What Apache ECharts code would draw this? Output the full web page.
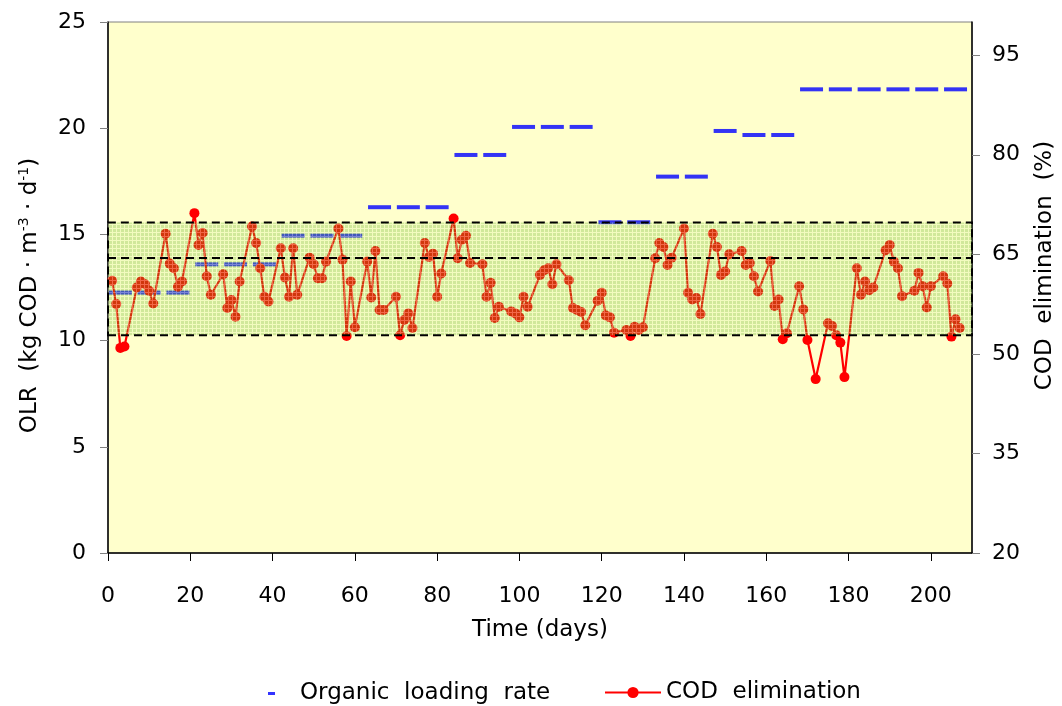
<!DOCTYPE html>
<html>
<head>
<meta charset="utf-8">
<script src="https://cdn.jsdelivr.net/npm/echarts@6/dist/echarts.min.js"></script>
<style>
html,body{margin:0;padding:0;background:#fff;}
#chart{width:1062px;height:706px;}
</style>
</head>
<body>
<div id="chart"></div>
<script>
// ---- data ----
const days = [1,2,3,4,7,8,9,10,11,14,15,16,17,18,21,22,23,24,25,28,29,30,31,32,35,36,37,38,39,42,43,44,45,46,49,50,51,52,53,56,57,58,59,60,63,64,65,66,67,70,71,72,73,74,77,78,79,80,81,84,85,86,87,88,91,92,93,94,95,98,99,100,101,102,105,106,107,108,109,112,113,114,115,116,119,120,121,122,123,126,127,128,129,130,133,134,135,136,137,140,141,142,143,144,147,148,149,150,151,154,155,156,157,158,161,162,163,164,165,168,169,170,172,175,176,177,178,179,182,183,184,185,186,189,190,191,192,193,196,197,198,199,200,203,204,205,206,207];
const codElimination = [61.0,57.5,50.9,51.1, 60.0,60.9,60.5,59.5,57.6, 68.1,63.6,62.9,60.1,60.9, 71.2,66.4,68.2,61.7,58.9, 62.0,56.9,58.1,55.6,60.9, 69.2,66.7,62.9,58.6,57.9, 65.9,61.5,58.6,65.9,58.9, 64.5,63.5,61.4,61.4,63.9, 68.9,64.2,52.7,60.9,54.0, 63.9,58.5,65.5,56.6,56.6, 58.6,52.8,55.1,56.1,53.9, 66.7,64.6,65.1,58.6,62.1, 70.4,64.4,67.2,67.8,63.7, 63.5,58.6,60.7,55.4,57.1, 56.4,56.1,55.5,58.6,57.1, 61.9,62.6,62.9,60.5,63.5, 61.1,56.9,56.6,56.3,54.3, 58.0,59.2,55.8,55.5,53.2, 53.6,52.7,54.1,53.6,54.0, 64.4,66.7,66.1,63.4,64.5, 68.9,59.2,58.2,58.4,56.0, 68.1,66.1,61.9,62.4,65.0, 65.5,63.4,63.7,61.7,59.4, 64.0,57.2,58.2,52.2,53.1, 60.2,56.7,52.1,46.2, 54.6,54.2,52.8,51.7,46.5, 62.9,58.9,60.9,59.6,60.0, 65.6,66.4,63.9,62.9,58.7, 59.5,62.2,60.2,57.0,60.2, 61.7,60.6,52.6,55.2,53.9];
const olrDays = [3,10,17,24,31,38,45,52,59,66,73,80,87,94,101,108,115,122,129,136,143,150,157,164,171,178,185,192,199,206];
const olrValues = [12.26,12.26,12.26,13.59,13.59,13.59,14.94,14.94,14.94,16.28,16.28,16.28,18.74,18.74,20.06,20.06,20.06,15.57,15.57,17.72,17.72,19.87,19.68,19.68,21.83,21.83,21.83,21.83,21.83,21.83];
const bandLow = 52.8, bandMid = 64.5, bandHigh = 69.8;
const olrName = 'Organic  loading  rate';
const codName = 'COD  elimination';

// ---- band pattern (semi-transparent grid overlay) ----
function makePattern(){
  const c = document.createElement('canvas');
  c.width = 4; c.height = 4;
  const g = c.getContext('2d');
  g.fillStyle = 'rgba(100,180,40,0.30)';
  g.fillRect(0,1,4,3);
  g.clearRect(0,0,1,4);
  g.fillStyle = 'rgba(225,245,175,0.42)';
  g.fillRect(0,0,4,1);
  g.fillRect(0,1,1,3);
  return c;
}

const font = 'DejaVu Sans, sans-serif';
const fs = 22, fsName = 23;
const chart = echarts.init(document.getElementById('chart'), null, {renderer:'canvas'});
const codData = days.map((d,i)=>[d, codElimination[i]]);
const olrData = olrDays.map((d,i)=>[d, olrValues[i]]);

chart.setOption({
  animation:false,
  backgroundColor:'#ffffff',
  textStyle:{fontFamily:font, color:'#000'},
  grid:{left:108, right:90, top:22, bottom:153, outerBoundsMode:'none', containLabel:false,
        show:true, backgroundColor:'#FFFFCC', borderColor:'#808080', borderWidth:1},
  legend:[
    {data:[{name:olrName, icon:'rect'}], left:263, top:677, itemWidth:7, itemHeight:3,
     textStyle:{fontFamily:font, fontSize:fsName, color:'#000', padding:[0,0,0,20]}},
    {data:[{name:codName}], left:599, top:676, itemWidth:56, itemHeight:14,
     textStyle:{fontFamily:font, fontSize:fsName, color:'#000'}}
  ],
  xAxis:{
    type:'value', min:0, max:210, interval:20,
    name:'Time (days)', nameLocation:'middle', nameGap:66,
    nameTextStyle:{fontFamily:font, fontSize:fsName, color:'#000'},
    axisLine:{lineStyle:{color:'#000', width:1.5}},
    axisTick:{show:true, length:8, lineStyle:{color:'#000'}},
    axisLabel:{showMaxLabel:false, margin:32, fontFamily:font, fontSize:fs, color:'#000'},
    splitLine:{show:false}
  },
  yAxis:[
    {type:'value', min:0, max:25, interval:5, position:'left',
     name:'OLR  (kg COD · m{sup|-3} · d{sup|-1})', nameLocation:'middle', nameGap:65,
     nameTextStyle:{fontFamily:font, fontSize:fsName, color:'#000', lineHeight:26, padding:[0,16,0,0],
       rich:{sup:{fontFamily:font, fontSize:14, color:'#000', verticalAlign:'top', lineHeight:14}}},
     axisLine:{show:true, lineStyle:{color:'#000', width:1.5}},
     axisTick:{show:true, length:8, lineStyle:{color:'#808080'}},
     axisLabel:{margin:22, fontFamily:font, fontSize:fs, color:'#000'},
     splitLine:{show:false}},
    {type:'value', min:20, max:100, interval:15, position:'right',
     name:'COD  elimination  (%)', nameLocation:'middle', nameGap:62,
     nameTextStyle:{fontFamily:font, fontSize:fsName, color:'#000', padding:[0,0,0,44]},
     axisLine:{show:true, lineStyle:{color:'#000', width:1.5}},
     axisTick:{show:true, length:8, lineStyle:{color:'#808080'}},
     axisLabel:{showMaxLabel:false, margin:20, fontFamily:font, fontSize:fs, color:'#000'},
     splitLine:{show:false}}
  ],
  series:[
    {name:olrName, type:'scatter', yAxisIndex:0, data:olrData, z:2,
     symbol:'rect', symbolSize:[23,4], itemStyle:{color:'#0000FF'}},
    {name:codName, type:'line', yAxisIndex:1, data:codData, z:3,
     symbol:'circle', symbolSize:10, showAllSymbol:true,
     lineStyle:{color:'#FF0000', width:2.2}, itemStyle:{color:'#FF0000'}},
    {name:'band', type:'line', yAxisIndex:1, data:[], z:10, silent:true,
     markArea:{silent:true, z:10,
       itemStyle:{color:{image:makePattern(), repeat:'repeat'}, borderColor:'#000', borderWidth:2, borderType:[8,5]},
       data:[[{coord:[0,bandLow]},{coord:[210,bandHigh]}]]},
     markLine:{silent:true, z:11, symbol:'none', label:{show:false},
       lineStyle:{color:'#000', width:2, type:[8,5]},
       data:[[{coord:[0,bandMid]},{coord:[210,bandMid]}]]}
    }
  ]
});
</script>
</body>
</html>
